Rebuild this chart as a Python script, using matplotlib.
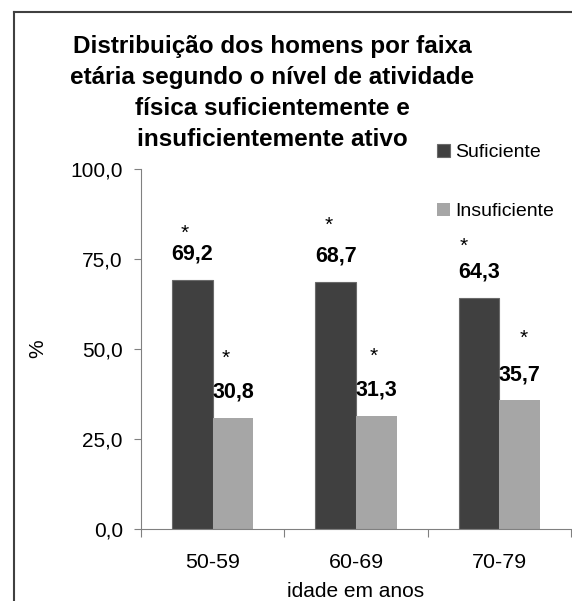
import numpy as np
import matplotlib
matplotlib.use('Agg')
from matplotlib import pyplot as plt
from matplotlib.lines import Line2D

plt.rcParams['font.family'] = ['Liberation Sans', 'DejaVu Sans']

categories = ['50-59', '60-69', '70-79']
suficiente = [69.2, 68.7, 64.3]
insuficiente = [30.8, 31.3, 35.7]
y_ticks = [0, 25, 50, 75, 100]
y_tick_labels = ['0,0', '25,0', '50,0', '75,0', '100,0']
title_lines = ['Distribuição dos homens por faixa',
               'etária segundo o nível de atividade',
               'física suficientemente e',
               'insuficientemente ativo']

# asterisk heights (data units) and x shifts (pixels) as placed in the original
star_suf_y = [83.9, 86.1, 80.3]
star_suf_dx = [-8, -7, -15]
star_ins_y = [49.2, 49.7, 54.7]
star_ins_dx = [-7, -3, 4]

dark = '#404040'
light = '#a6a6a6'

fig = plt.figure(figsize=(5.72, 6.01), dpi=100)
ax = fig.add_axes([141/572, 1 - 529/601, 430/572, 360/601])

x = np.arange(len(categories))
w = 0.283
ax.bar(x - w/2, suficiente, w, color=dark, edgecolor='#6a6a6a', linewidth=0.8, label='Suficiente')
ax.bar(x + w/2, insuficiente, w, color=light, edgecolor=light, linewidth=0, label='Insuficiente')

ax.set_xlim(-0.5, 2.5)
ax.set_ylim(0, 100)
ax.set_yticks(y_ticks)
ax.set_yticklabels(y_tick_labels, fontsize=15)
ax.tick_params(axis='y', length=5, width=0.8, color='#808080', pad=8)

ax.set_xticks(np.arange(-0.5, 3.0, 1.0))
ax.set_xticklabels([])
ax.tick_params(axis='x', which='major', length=6, width=0.8, color='#808080')
ax.set_xticks(x, minor=True)
ax.set_xticklabels(categories, minor=True, fontsize=15.4)
ax.tick_params(axis='x', which='minor', length=0, pad=17)

for s in ['top', 'right']:
    ax.spines[s].set_visible(False)
for s in ['left', 'bottom']:
    ax.spines[s].set_color('#808080')
    ax.spines[s].set_linewidth(0.8)

ax.set_ylabel('%', fontsize=15)
ax.yaxis.set_label_coords(-0.218, 0.5)
ax.set_xlabel('idade em anos', fontsize=15)
ax.xaxis.set_label_coords(0.5, -0.147)

# value labels and asterisks
px = 1.0 / 143.3  # one pixel in category units
for i in range(len(categories)):
    xs = x[i] - w/2
    xi = x[i] + w/2
    ax.text(xs, suficiente[i] + 7.2, f'{suficiente[i]:.1f}'.replace('.', ','),
            ha='center', va='center', fontsize=15.5, fontweight='bold')
    ax.text(xi, insuficiente[i] + 7.2, f'{insuficiente[i]:.1f}'.replace('.', ','),
            ha='center', va='center', fontsize=15.5, fontweight='bold')
    ax.text(xs + star_suf_dx[i]*px, star_suf_y[i] - 3.3, '*',
            ha='center', va='baseline', fontsize=15)
    ax.text(xi + star_ins_dx[i]*px, star_ins_y[i] - 3.3, '*',
            ha='center', va='baseline', fontsize=15)

# title, one text per line so each box stays tight
for k, line in enumerate(title_lines):
    fig.text(272/572, 1 - (52.7 + 31.1*k)/601, line,
             ha='center', va='baseline', fontsize=17.5, fontweight='bold')

ax.legend(loc='upper left', bbox_to_anchor=(437/572, 1 - 144/601), bbox_transform=fig.transFigure,
          frameon=False, fontsize=14, handlelength=0.65, handleheight=0.65,
          handletextpad=0.3, labelspacing=2.15, borderaxespad=0, borderpad=0)

# outer frame (only left and top edges are inside the picture)
fig.add_artist(Line2D([13.5/572, 13.5/572], [0, 1 - 12/601], color='#404040', linewidth=1.5))
fig.add_artist(Line2D([13.5/572, 1], [1 - 12/601, 1 - 12/601], color='#404040', linewidth=1.5))

fig.savefig('out.png', dpi=100)
